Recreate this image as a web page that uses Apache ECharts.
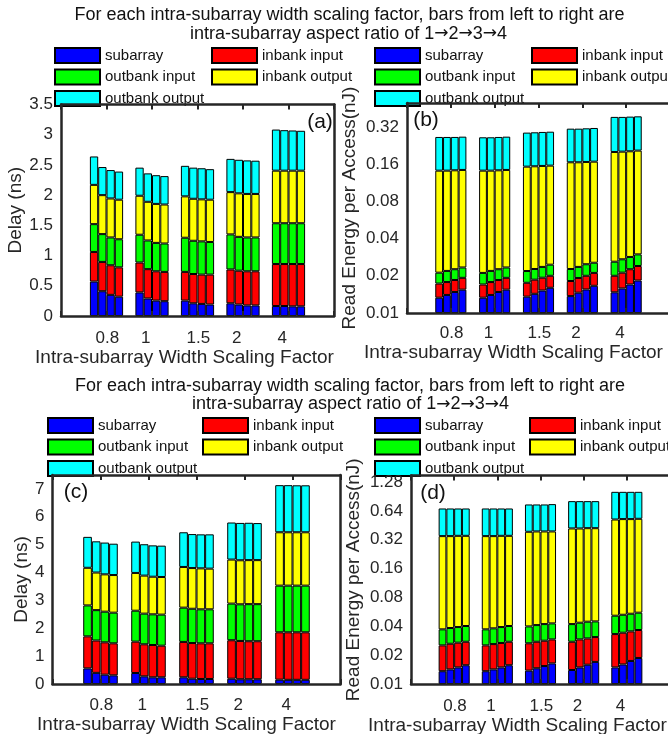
<!DOCTYPE html>
<html><head><meta charset="utf-8">
<script src="https://cdn.jsdelivr.net/npm/echarts@6/dist/echarts.min.js"></script>
<style>html,body{margin:0;padding:0;background:#fff}#c{width:668px;height:734px}</style>
</head><body><div id="c"></div>
<script>
// ---------------- data ----------------
const categories = ['0.8', '1', '1.5', '2', '4'];
const components = ['subarray', 'inbank input', 'outbank input', 'inbank output', 'outbank output'];
const componentColors = ['#0000FF', '#FF0000', '#00FF00', '#FFFF00', '#00FFFF'];
// each array: [scaling factor group][aspect ratio 1..4]

// (a) delay (ns), top
const delayA_subarray      = [[0.57,0.41,0.35,0.32],[0.39,0.29,0.255,0.245],[0.255,0.21,0.20,0.19],[0.21,0.19,0.175,0.175],[0.165,0.165,0.16,0.16]];
const delayA_inbankInput   = [[0.49,0.485,0.49,0.485],[0.495,0.485,0.485,0.485],[0.475,0.485,0.485,0.495],[0.56,0.56,0.565,0.565],[0.695,0.695,0.70,0.70]];
const delayA_outbankInput  = [[0.46,0.46,0.46,0.465],[0.46,0.475,0.47,0.47],[0.565,0.55,0.55,0.54],[0.58,0.56,0.56,0.56],[0.675,0.675,0.675,0.675]];
const delayA_inbankOutput  = [[0.65,0.645,0.645,0.655],[0.645,0.64,0.645,0.645],[0.685,0.695,0.695,0.70],[0.70,0.72,0.72,0.72],[0.87,0.87,0.87,0.87]];
const delayA_outbankOutput = [[0.47,0.465,0.47,0.465],[0.465,0.47,0.475,0.47],[0.505,0.515,0.515,0.505],[0.55,0.555,0.555,0.55],[0.68,0.67,0.665,0.66]];

// (b) read energy per access (nJ), top
const energyB_subarray      = [[0.0133,0.0140,0.0148,0.01545],[0.0133,0.0140,0.0148,0.01545],[0.01356,0.0143,0.0152,0.0160],[0.0137,0.0146,0.0155,0.0166],[0.0147,0.0158,0.0170,0.0183]];
const energyB_inbankInput   = [[0.0040,0.0038,0.0037,0.0038],[0.0037,0.0038,0.0037,0.0038],[0.0040,0.0043,0.0041,0.0040],[0.00445,0.0046,0.0045,0.0045],[0.0053,0.0054,0.0056,0.0057]];
const energyB_outbankInput  = [[0.0039,0.0041,0.0041,0.0041],[0.0041,0.0041,0.0041,0.0041],[0.0043,0.0041,0.0043,0.0046],[0.00455,0.0044,0.0048,0.0044],[0.0060,0.0060,0.0058,0.0058]];
const energyB_inbankOutput  = [[0.1206,0.1199,0.1201,0.1203],[0.1207,0.1199,0.1201,0.1203],[0.1309,0.1311,0.1312,0.1311],[0.1430,0.1421,0.1419,0.1422],[0.1748,0.1748,0.1750,0.1762]];
const energyB_outbankOutput = [[0.1238,0.1238,0.1230,0.1234],[0.1222,0.1222,0.1229,0.1234],[0.1352,0.1359,0.1368,0.1373],[0.1443,0.1443,0.1453,0.1463],[0.1852,0.1840,0.1846,0.1840]];

// (c) delay (ns), bottom
const delayC_subarray      = [[0.56,0.40,0.335,0.31],[0.395,0.275,0.24,0.24],[0.24,0.19,0.18,0.18],[0.19,0.17,0.17,0.17],[0.155,0.15,0.15,0.15]];
const delayC_inbankInput   = [[1.15,1.16,1.16,1.15],[1.125,1.15,1.16,1.135],[1.27,1.28,1.28,1.28],[1.38,1.375,1.365,1.365],[1.70,1.705,1.705,1.705]];
const delayC_outbankInput  = [[1.11,1.09,1.10,1.10],[1.11,1.10,1.10,1.115],[1.23,1.23,1.22,1.22],[1.315,1.315,1.33,1.33],[1.675,1.675,1.675,1.675]];
const delayC_inbankOutput  = [[1.35,1.35,1.34,1.35],[1.355,1.365,1.35,1.35],[1.46,1.46,1.47,1.46],[1.58,1.58,1.58,1.58],[1.915,1.915,1.915,1.915]];
const delayC_outbankOutput = [[1.11,1.12,1.14,1.125],[1.125,1.125,1.125,1.125],[1.245,1.22,1.22,1.23],[1.33,1.34,1.34,1.33],[1.69,1.69,1.685,1.685]];

// (d) read energy per access (nJ), bottom
const energyD_subarray      = [[0.0136,0.0142,0.0149,0.0157],[0.0136,0.0142,0.0149,0.0157],[0.0138,0.0146,0.0154,0.0164],[0.0140,0.0149,0.0159,0.0170],[0.0149,0.0160,0.0174,0.0187]];
const energyD_inbankInput   = [[0.0117,0.0121,0.0121,0.0119],[0.0117,0.0119,0.0119,0.0119],[0.0128,0.0130,0.0129,0.0128],[0.0136,0.0143,0.0140,0.0139],[0.0183,0.0183,0.0180,0.0179]];
const energyD_outbankInput  = [[0.0119,0.0121,0.0123,0.0127],[0.0119,0.0120,0.0125,0.0127],[0.0133,0.0136,0.0139,0.0137],[0.0146,0.0144,0.0148,0.0141],[0.0184,0.0185,0.0187,0.0189]];
const energyD_inbankOutput  = [[0.3123,0.3111,0.3127,0.3117],[0.3123,0.3114,0.3127,0.3117],[0.3481,0.3498,0.3488,0.3481],[0.3780,0.3764,0.3783,0.3780],[0.4694,0.4732,0.4719,0.4745]];
const energyD_outbankOutput = [[0.3295,0.3295,0.3270,0.3270],[0.3295,0.3295,0.3270,0.3270],[0.3600,0.3570,0.3570,0.3630],[0.3900,0.3900,0.3870,0.3870],[0.4920,0.4870,0.4870,0.4830]];

// tick labels
const delayTicksA  = ['0','0.5','1','1.5','2','2.5','3','3.5'];
const delayTicksC  = ['0','1','2','3','4','5','6','7'];
const energyTicksB = ['0.01','0.02','0.04','0.08','0.16','0.32'];
const energyTicksD = ['0.01','0.02','0.04','0.08','0.16','0.32','0.64','1.28'];

const titleLine1 = 'For each intra-subarray width scaling factor, bars from left to right are';
const titleLine2Prefix = 'intra-subarray aspect ratio of ';
const aspectSequence = ['1', '2', '3', '4'];
const xAxisName = 'Intra-subarray Width Scaling Factor';
const delayName = 'Delay (ns)';
const energyName = 'Read Energy per Access(nJ)';

// ---------------- layout / style ----------------
const FONT = '"Liberation Sans", Arial, Helvetica, sans-serif';
const INK = '#262626';
const ENERGY_UNIT = 100; // energy plotted in units of 0.01 nJ so base-2 log ticks fall on 0.01*2^k

const panels = [
  { grid:{left:61, top:104.5, width:273, height:211.5}, log:false,
    data:[delayA_subarray,delayA_inbankInput,delayA_outbankInput,delayA_inbankOutput,delayA_outbankOutput],
    ticks:delayTicksA, min:0, max:3.5, interval:0.5, yName:delayName, yNameGap:33, xNameShift:26, gap:'27%',
    labelMargin:14, tag:{text:'(a)', x:320, y:122} },
  { grid:{left:407, top:103, width:263, height:210}, log:true,
    data:[energyB_subarray,energyB_inbankInput,energyB_outbankInput,energyB_inbankOutput,energyB_outbankOutput],
    ticks:energyTicksB, min:0.01, max:0.5, yName:energyName, yNameGap:48, xNameShift:50, gap:'29%',
    labelMargin:12, tag:{text:'(b)', x:426, y:120} },
  { grid:{left:52.5, top:475, width:288, height:209}, log:false,
    data:[delayC_subarray,delayC_inbankInput,delayC_outbankInput,delayC_inbankOutput,delayC_outbankOutput],
    ticks:delayTicksC, min:0, max:7.5, interval:1, yName:delayName, yNameGap:21, xNameShift:20, gap:'28%',
    labelMargin:13, tag:{text:'(c)', x:76, y:492} },
  { grid:{left:411, top:475.5, width:259, height:208.5}, log:true,
    data:[energyD_subarray,energyD_inbankInput,energyD_outbankInput,energyD_inbankOutput,energyD_outbankOutput],
    ticks:energyTicksD, min:0.01, max:1.5, yName:energyName, yNameGap:48, xNameShift:46, gap:'28%',
    labelMargin:14, tag:{text:'(d)', x:433, y:493} }
];

const xCats = [''].concat(categories, ['']);
const grids = [], xAxes = [], yAxes = [], series = [];
const lineStyle = {color: INK, width: 2.5};
const tickStyle = {inside: true, length: 5, lineStyle: {color: INK, width: 2}};

panels.forEach((p, pi) => {
  grids.push(Object.assign({containLabel:false, outerBoundsMode:'none'}, p.grid));
  const scale = p.log ? ENERGY_UNIT : 1;
  xAxes.push({
    gridIndex: pi, type:'category', data: xCats, boundaryGap:false, position:'bottom', z:5,
    axisLine:{show:true, onZero:false, lineStyle}, axisTick:Object.assign({interval:0}, tickStyle),
    splitLine:{show:false},
    axisLabel:{interval:0, margin:p.labelMargin, formatter: v => v ? '{t|' + v + '}' : '',
      rich:{t:{width:22, align:'left', fontSize:17, fontFamily:FONT, color:INK}}},
    name: xAxisName, nameLocation:'middle', nameGap:27,
    nameTextStyle:{fontSize:19, fontFamily:FONT, color:INK, padding:[0, p.xNameShift, 0, 0]}
  });
  xAxes.push({
    gridIndex: pi, type:'category', data: xCats, boundaryGap:false, position:'top', z:5,
    axisLine:{show:true, onZero:false, lineStyle}, axisTick:Object.assign({interval:0}, tickStyle),
    axisLabel:{show:false}, splitLine:{show:false}
  });
  const yBase = {
    gridIndex: pi, type: p.log ? 'log' : 'value', min: p.min * scale, max: p.max * scale, z:5,
    axisLine:{show:true, onZero:false, lineStyle}, axisTick: tickStyle, splitLine:{show:false}
  };
  if (p.log) { yBase.logBase = 2; yBase.splitNumber = p.ticks.length; }
  else { yBase.interval = p.interval; }
  const fmt = p.log
    ? (v => { const s = (v / ENERGY_UNIT).toFixed(2); return p.ticks.includes(s) ? s : ''; })
    : (v => { const s = String(+v.toFixed(3)); return p.ticks.includes(s) ? s : ''; });
  yAxes.push(Object.assign({}, yBase, {
    position:'left',
    axisLabel:{margin:8, fontSize:17, fontFamily:FONT, color:INK, formatter: fmt},
    name: p.yName, nameLocation:'middle', nameGap: p.yNameGap,
    nameTextStyle:{fontSize:19, fontFamily:FONT, color:INK}
  }));
  yAxes.push(Object.assign({}, yBase, {position:'right', axisLabel:{show:false}}));

  for (let r = 0; r < 4; r++) {
    p.data.forEach((comp, ci) => {
      series.push({
        type:'bar', name: components[ci], xAxisIndex: pi*2, yAxisIndex: pi*2,
        stack: 'p' + pi + 'r' + r, barGap:'0%', barCategoryGap: p.gap,
        data: ['-'].concat(comp.map(g => g[r] * scale), ['-']),
        itemStyle:{color: componentColors[ci], borderColor:'#000', borderWidth:1},
        emphasis:{disabled:true}, silent:true, animation:false
      });
    });
  }
});

const legendSpots = [
  {left:54,  top:47,  idx:[0,2,4]}, {left:211, top:47,  idx:[1,3]},
  {left:374, top:47,  idx:[0,2,4]}, {left:531, top:47,  idx:[1,3]},
  {left:47,  top:417, idx:[0,2,4]}, {left:202, top:417, idx:[1,3]},
  {left:374, top:417, idx:[0,2,4]}, {left:529, top:417, idx:[1,3]}
];
const legends = legendSpots.map(s => ({
  left:s.left, top:s.top, orient:'vertical', padding:0, itemGap:4.5,
  itemWidth:45, itemHeight:15, icon:'rect', selectedMode:false,
  data: s.idx.map(i => components[i]),
  textStyle:{fontSize:15, fontFamily:FONT, color:'#111'}
}));

const textEl = (text, x, y, size, rich) => ({
  type:'text', x, y, silent:true,
  style:{text, fontSize:size, fontFamily:FONT, fill:'#111', align:'center', verticalAlign:'middle', rich}
});
const arrowRich = {ar:{fontFamily:'"DejaVu Sans", sans-serif', fontSize:17, fill:'#111'}};
const titleLine2 = titleLine2Prefix + aspectSequence.join('{ar|\u2192}');
const graphic = [
  textEl(titleLine1, 349.5, 15, 18), textEl(titleLine2, 348.5, 34, 18, arrowRich),
  textEl(titleLine1, 350, 386, 18),  textEl(titleLine2, 350.5, 404.5, 18, arrowRich)
].concat(panels.map(p => textEl(p.tag.text, p.tag.x, p.tag.y, 21)));

const chart = echarts.init(document.getElementById('c'), null, {renderer:'canvas'});
chart.setOption({
  animation:false, backgroundColor:'#fff',
  grid: grids, xAxis: xAxes, yAxis: yAxes, legend: legends, series, graphic
});
</script></body></html>
